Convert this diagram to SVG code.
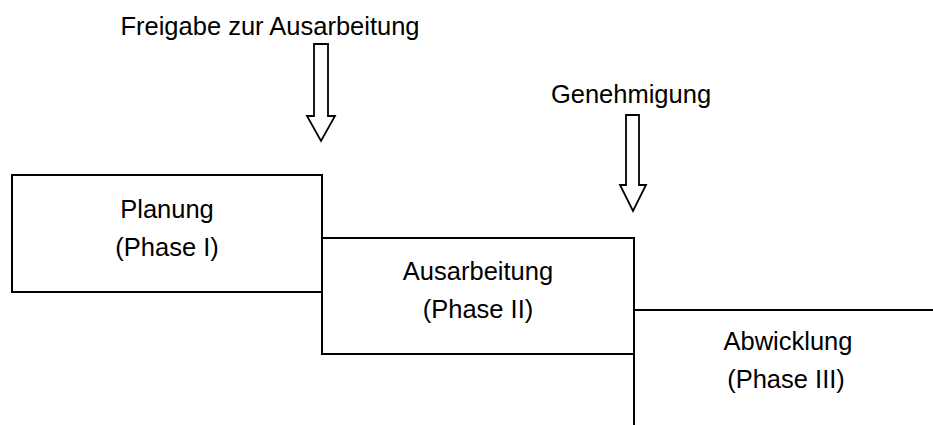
<svg xmlns="http://www.w3.org/2000/svg" width="933" height="425" viewBox="0 0 933 425">
  <style>
    .box { fill: #ffffff; stroke: #000000; stroke-width: 2; }
    .line { fill: none; stroke: #000000; stroke-width: 2; }
    .arrow { fill: #ffffff; stroke: #000000; stroke-width: 1.8; stroke-linejoin: miter; }
    text { font-family: "Liberation Sans", Arial, sans-serif; font-size: 25.5px; fill: #000000; text-anchor: middle; }
  </style>
  <rect width="933" height="425" fill="#ffffff"/>

  <g id="phase1">
    <rect class="box" x="12" y="175" width="310" height="117"/>
    <text x="167" y="218">Planung</text>
    <text x="167" y="256">(Phase I)</text>
  </g>

  <g id="phase2">
    <rect class="box" x="322" y="238" width="312" height="116"/>
    <text x="478" y="280">Ausarbeitung</text>
    <text x="478" y="318">(Phase II)</text>
  </g>

  <g id="phase3">
    <path class="line" d="M634,238 V425 M634,310 H933"/>
    <text x="788" y="350">Abwicklung</text>
    <text x="786" y="388">(Phase III)</text>
  </g>

  <g id="connectors">
    <path class="line" d="M322,175 V354"/>
  </g>

  <g id="freigabe">
    <text x="270" y="35">Freigabe zur Ausarbeitung</text>
    <polygon class="arrow" points="314,44 328,44 328,116 335,116 321,141 307,116 314,116"/>
  </g>

  <g id="genehmigung">
    <text x="631" y="103">Genehmigung</text>
    <polygon class="arrow" points="626,115 639,115 639,185 646,185 633,211 620,185 626,185"/>
  </g>
</svg>
